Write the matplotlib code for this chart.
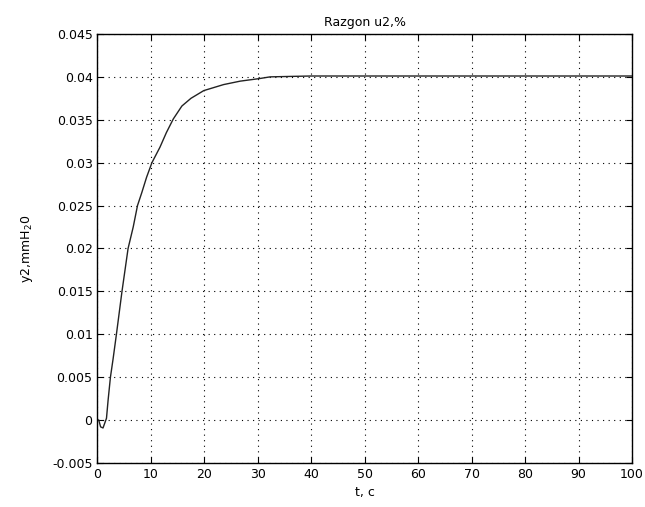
import matplotlib
matplotlib.use("Agg")
import matplotlib.pyplot as plt

t = [0, 0.25, 0.6, 1.05, 1.7, 2.0, 2.44, 2.93, 3.56, 4.6, 5.74, 6.7, 7.5, 8.3,
     9.2, 10.2, 11.7, 12.9, 14.2, 15.8, 17.5, 19.9, 23.6, 26.7, 30.3, 32.3,
     36, 40, 50, 60, 70, 80, 90, 100]
y2 = [0, 0, -0.0008, -0.00093, 0.0002, 0.0023, 0.005, 0.0071, 0.010, 0.015,
      0.020, 0.0225, 0.025, 0.0265, 0.0283, 0.030, 0.0318, 0.0335, 0.0351,
      0.0366, 0.0375, 0.0384, 0.0391, 0.0395, 0.0398, 0.0400, 0.04005,
      0.0401, 0.0401, 0.0401, 0.0401, 0.0401, 0.0401, 0.0401]

xticks = [0, 10, 20, 30, 40, 50, 60, 70, 80, 90, 100]
yticks = [-0.005, 0, 0.005, 0.01, 0.015, 0.02, 0.025, 0.03, 0.035, 0.04, 0.045]
ytick_labels = ["-0.005", "0", "0.005", "0.01", "0.015", "0.02", "0.025",
                "0.03", "0.035", "0.04", "0.045"]

plt.rcParams['font.family'] = ['DejaVu Sans']
fig = plt.figure(figsize=(6.45, 5.07), dpi=100)
ax = fig.add_axes([0.151, 0.087, 0.829, 0.846])
ax.plot(t, y2, color='#222222', linewidth=1.0)
ax.set_xlim(0, 100)
ax.set_ylim(-0.005, 0.045)
ax.set_xticks(xticks)
ax.set_xticklabels([str(v) for v in xticks])
ax.set_yticks(yticks)
ax.set_yticklabels(ytick_labels)
ax.tick_params(direction='in', top=True, right=True, labelsize=9, length=4)
ax.grid(True, color='black', linestyle=(0, (1, 4)), linewidth=0.8)
for s in ax.spines.values():
    s.set_linewidth(1.0)
ax.set_title('Razgon u2,%', fontsize=9)
ax.set_xlabel('t, c', fontsize=9)
ax.set_ylabel('y2,mmH$_2$0', fontsize=9, labelpad=12)
fig.savefig('out.png', dpi=100)
